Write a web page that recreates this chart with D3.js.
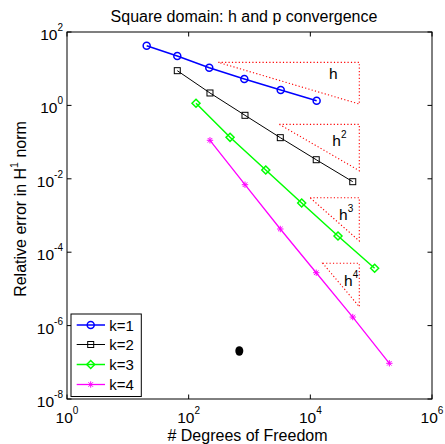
<!DOCTYPE html>
<html>
<head>
<meta charset="utf-8">
<script src="https://cdn.jsdelivr.net/npm/d3@7"></script>
<style>
  body { margin: 0; background: #fff; }
  text { font-family: "Liberation Sans", Arial, Helvetica, sans-serif; fill: #000; }
</style>
</head>
<body>
<svg id="chart" width="445" height="444"></svg>
<script>
// Degrees of freedom and relative H1 errors for each polynomial order k
const dofK1 = [20.4, 65, 218, 822, 3260, 12700];
const errK1 = [42.4, 22.2, 10.6, 5.24, 2.63, 1.34];
const dofK2 = [65, 224, 843, 3210, 12500, 49800];
const errK2 = [8.83, 2.18, 0.537, 0.132, 0.0331, 0.00834];
const dofK3 = [132, 479, 1850, 7210, 28500, 114000];
const errK3 = [1.14, 0.135, 0.0174, 0.00219, 0.000276, 3.64e-5];
const dofK4 = [224, 843, 3210, 12500, 49800, 199000];
const errK4 = [0.112, 0.0069, 4.29e-4, 2.76e-5, 1.71e-6, 9.4e-8];

// p-refinement result (single point)
const pDof = [680];
const pErr = [2.03e-7];

// Reference rate triangles: left/right dof, top/bottom error, label
const triExponent = ["", "2", "3", "4"];
const triLeft = [307, 3090, 9890, 16000];
const triRight = [63800, 63800, 63800, 63800];
const triTop = [14.9, 0.305, 0.00305, 4.99e-5];
const triBottom = [1.09, 0.0166, 2.02e-4, 3.27e-6];
const triTextDof = [20300, 23000, 29600, 35800];
const triTextErr = [5.24, 0.0783, 7.53e-4, 1.22e-5];

const legendLabels = ["k=1", "k=2", "k=3", "k=4"];
const xTickExps = [0, 2, 4, 6];
const yTickExps = [2, 0, -2, -4, -6, -8];

const svg = d3.select("#chart");
const plotLeft = 67, plotRight = 432, plotTop = 32, plotBottom = 399;

const x = d3.scaleLog().domain([1, 1e6]).range([plotLeft, plotRight]);
const y = d3.scaleLog().domain([1e-8, 1e2]).range([plotBottom, plotTop]);

const series = [
  { dof: dofK1, err: errK1, color: "#0000ff", width: 1.5, marker: "circle" },
  { dof: dofK2, err: errK2, color: "#000000", width: 1.0, marker: "square" },
  { dof: dofK3, err: errK3, color: "#00ff00", width: 1.5, marker: "diamond" },
  { dof: dofK4, err: errK4, color: "#ff00ff", width: 1.3, marker: "star" }
];

function drawMarker(g, type, cx, cy, color, w) {
  if (type === "circle") {
    g.append("circle").attr("cx", cx).attr("cy", cy).attr("r", 3.5)
      .attr("fill", "none").attr("stroke", color).attr("stroke-width", w);
  } else if (type === "square") {
    g.append("rect").attr("x", cx - 3).attr("y", cy - 3).attr("width", 6).attr("height", 6)
      .attr("fill", "none").attr("stroke", color).attr("stroke-width", 1);
  } else if (type === "diamond") {
    const s = 4;
    g.append("path").attr("d", `M${cx},${cy - s}L${cx + s},${cy}L${cx},${cy + s}L${cx - s},${cy}Z`)
      .attr("fill", "none").attr("stroke", color).attr("stroke-width", w);
  } else if (type === "star") {
    const s = 3.2, d = 2.3;
    g.append("path").attr("d",
      `M${cx - s},${cy}L${cx + s},${cy}M${cx},${cy - s}L${cx},${cy + s}` +
      `M${cx - d},${cy - d}L${cx + d},${cy + d}M${cx - d},${cy + d}L${cx + d},${cy - d}`)
      .attr("fill", "none").attr("stroke", color).attr("stroke-width", 1);
  }
}

// Rate triangles (red dotted)
const triG = svg.append("g");
triLeft.forEach((_, i) => {
  const x0 = x(triLeft[i]), x1 = x(triRight[i]);
  const y0 = y(triTop[i]), y1 = y(triBottom[i]);
  triG.append("path")
    .attr("d", `M${x0},${y0}L${x1},${y0}L${x1},${y1}Z`)
    .attr("fill", "none").attr("stroke", "#ff0000").attr("stroke-width", 1.1)
    .attr("stroke-dasharray", "1.2,2.2");
  const t = triG.append("text").attr("x", x(triTextDof[i])).attr("y", y(triTextErr[i]))
    .attr("font-size", 15.5);
  t.append("tspan").text("h");
  if (triExponent[i]) {
    t.append("tspan").attr("dy", -8).attr("font-size", 10).text(triExponent[i]);
  }
});

// Convergence curves
const line = d3.line().x(d => x(d[0])).y(d => y(d[1]));
series.forEach(s => {
  const pts = s.dof.map((d, i) => [d, s.err[i]]);
  svg.append("path").datum(pts).attr("d", line)
    .attr("fill", "none").attr("stroke", s.color).attr("stroke-width", s.width);
  const mg = svg.append("g");
  pts.forEach(p => drawMarker(mg, s.marker, x(p[0]), y(p[1]), s.color, s.width));
});

// p-refinement point
svg.selectAll(".pdot").data(pDof).enter().append("ellipse")
  .attr("cx", (d) => x(d)).attr("cy", (d, i) => y(pErr[i]))
  .attr("rx", 4).attr("ry", 4.8).attr("fill", "#000");

// Axes box and ticks
const axG = svg.append("g");
axG.append("rect").attr("x", plotLeft).attr("y", plotTop)
  .attr("width", plotRight - plotLeft).attr("height", plotBottom - plotTop)
  .attr("fill", "none").attr("stroke", "#000").attr("stroke-width", 1);
const tl = 4.5;
xTickExps.forEach(e => {
  const px = x(Math.pow(10, e));
  axG.append("line").attr("x1", px).attr("x2", px).attr("y1", plotBottom).attr("y2", plotBottom - tl).attr("stroke", "#000");
  axG.append("line").attr("x1", px).attr("x2", px).attr("y1", plotTop).attr("y2", plotTop + tl).attr("stroke", "#000");
  const t = axG.append("text").attr("x", px).attr("y", plotBottom + 24).attr("text-anchor", "middle").attr("font-size", 15.5);
  t.append("tspan").text("10");
  t.append("tspan").attr("dy", -9).attr("font-size", 10).text(String(e));
});
yTickExps.forEach(e => {
  const py = y(Math.pow(10, e));
  axG.append("line").attr("x1", plotLeft).attr("x2", plotLeft + tl).attr("y1", py).attr("y2", py).attr("stroke", "#000");
  axG.append("line").attr("x1", plotRight).attr("x2", plotRight - tl).attr("y1", py).attr("y2", py).attr("stroke", "#000");
  const t = axG.append("text").attr("x", plotLeft - 4).attr("y", py + 8).attr("text-anchor", "end").attr("font-size", 15.5);
  t.append("tspan").text("10");
  t.append("tspan").attr("dy", -9).attr("font-size", 10).text(String(e));
});

// Title and axis labels
svg.append("text").attr("x", 244).attr("y", 21.5).attr("text-anchor", "middle").attr("font-size", 16)
  .text("Square domain: h and p convergence");
svg.append("text").attr("x", 247.5).attr("y", 440.5).attr("text-anchor", "middle").attr("font-size", 16)
  .text("# Degrees of Freedom");
const yl = svg.append("text").attr("transform", "translate(26,209) rotate(-90)")
  .attr("text-anchor", "middle").attr("font-size", 16);
yl.append("tspan").text("Relative error in H");
yl.append("tspan").attr("dy", -8).attr("font-size", 10.5).text("1");
yl.append("tspan").attr("dy", 8).text(" norm");

// Legend
const lg = svg.append("g");
lg.append("rect").attr("x", 71).attr("y", 314).attr("width", 70.3).attr("height", 82.5)
  .attr("fill", "#fff").attr("stroke", "#000").attr("stroke-width", 1);
const rowY = [325, 344.5, 364.5, 384.5];
series.forEach((s, i) => {
  lg.append("line").attr("x1", 76.7).attr("x2", 105).attr("y1", rowY[i]).attr("y2", rowY[i])
    .attr("stroke", s.color).attr("stroke-width", s.width);
  drawMarker(lg, s.marker, 90.7, rowY[i], s.color, s.width);
  lg.append("text").attr("x", 109.3).attr("y", rowY[i] + 5.5).attr("font-size", 15).text(legendLabels[i]);
});
</script>
</body>
</html>
